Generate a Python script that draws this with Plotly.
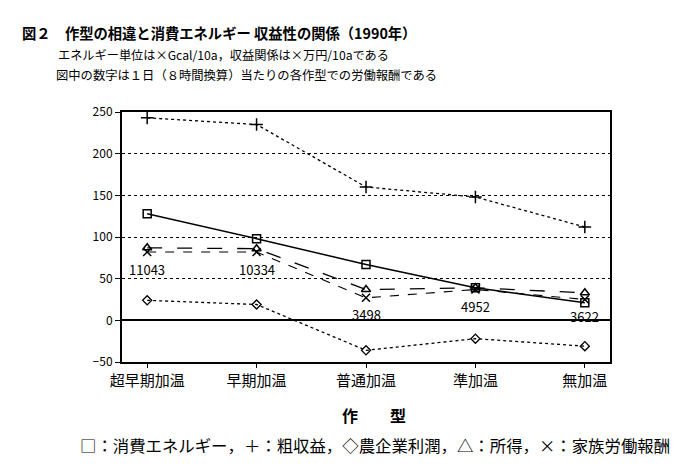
import plotly.graph_objects as go

FONT = "Noto Sans CJK JP"

# 作型
categories = ["超早期加温", "早期加温", "普通加温", "準加温", "無加温"]

# 消費エネルギー (×Gcal/10a)
energy = [128, 98, 67, 39, 21]
# 粗収益 (×万円/10a)
gross_income = [243, 235, 160, 148, 112]
# 農企業利潤
farm_profit = [24, 19, -36, -22, -31]
# 所得
income = [87, 86, 37, 39, 33]
# 家族労働報酬
family_labor = [82, 82, 27, 37, 25]
# 1日(8時間換算)当たり労働報酬
daily_labor_reward = ["11043", "10334", "3498", "4952", "3622"]

y_ticks = [250, 200, 150, 100, 50, 0, -50]

x = list(range(len(categories)))

# plot area in pixels: left 114, right 602, top 104, bottom 354
PW, PH = 488, 250


def px(xp):
    return (xp - 114) / PW


def py(yp):
    return 1 + (104 - yp) / PH


fig = go.Figure()

fig.add_trace(go.Scatter(
    x=x, y=gross_income, mode="lines+markers", name="粗収益",
    line=dict(color="black", width=1.3, dash="dot"),
    marker=dict(symbol="cross-thin-open", size=9, line=dict(width=1.5, color="black")),
))
fig.add_trace(go.Scatter(
    x=x, y=energy, mode="lines+markers", name="消費エネルギー",
    line=dict(color="black", width=1.5),
    marker=dict(symbol="square-open", size=8, color="black", line=dict(width=1.5)),
))
fig.add_trace(go.Scatter(
    x=x, y=income, mode="lines+markers", name="所得",
    line=dict(color="black", width=1.3, dash="longdash"),
    marker=dict(symbol="triangle-up-open", size=8, color="black", line=dict(width=1.5)),
))
fig.add_trace(go.Scatter(
    x=x, y=family_labor, mode="lines+markers", name="家族労働報酬",
    line=dict(color="black", width=1.1, dash="dash"),
    marker=dict(symbol="x-thin-open", size=8, line=dict(width=1.5, color="black")),
))
fig.add_trace(go.Scatter(
    x=x, y=farm_profit, mode="lines+markers", name="農企業利潤",
    line=dict(color="black", width=1.3, dash="dot"),
    marker=dict(symbol="diamond-open", size=7, color="black", line=dict(width=1.3)),
))

# 労働報酬の数字
for i, lab in enumerate(daily_labor_reward):
    fig.add_annotation(
        x=x[i], y=family_labor[i], text=lab, showarrow=False, yshift=-17,
        font=dict(family=FONT, size=13, color="black"),
    )

# タイトル・注記
fig.add_annotation(
    xref="paper", yref="paper", x=px(12), y=py(25), xanchor="left", yanchor="middle",
    text="<b>図２　作型の相違と消費エネルギー 収益性の関係（1990年）</b>",
    showarrow=False, font=dict(family=FONT, size=14.3, color="black"),
)
fig.add_annotation(
    xref="paper", yref="paper", x=px(48), y=py(47), xanchor="left", yanchor="middle",
    text="エネルギー単位は×Gcal/10a，収益関係は×万円/10aである",
    showarrow=False, font=dict(family=FONT, size=12.2, color="black"),
)
fig.add_annotation(
    xref="paper", yref="paper", x=px(46), y=py(67), xanchor="left", yanchor="middle",
    text="図中の数字は１日（８時間換算）当たりの各作型での労働報酬である",
    showarrow=False, font=dict(family=FONT, size=12.3, color="black"),
)
fig.add_annotation(
    xref="paper", yref="paper", x=px(366), y=py(407), xanchor="center", yanchor="middle",
    text="<b>作　　型</b>",
    showarrow=False, font=dict(family=FONT, size=16, color="black"),
)
fig.add_annotation(
    xref="paper", yref="paper", x=px(70), y=py(437), xanchor="left", yanchor="middle",
    text="□：消費エネルギー，＋：粗収益，◇農企業利潤，△：所得，×：家族労働報酬",
    showarrow=False, font=dict(family=FONT, size=16.4, color="black"),
)

fig.update_layout(
    width=689, height=466,
    margin=dict(l=114, r=87, t=104, b=112),
    paper_bgcolor="white", plot_bgcolor="white",
    showlegend=False,
    font=dict(family=FONT, color="black"),
    xaxis=dict(
        range=[-0.23, 4.23], tickmode="array", tickvals=x, ticktext=categories,
        showgrid=False, zeroline=False,
        showline=True, linecolor="black", linewidth=2, mirror=True,
        ticks="outside", ticklen=4, tickcolor="black",
        tickfont=dict(family=FONT, size=15, color="black"),
    ),
    yaxis=dict(
        range=[-50, 250], tickmode="array", tickvals=y_ticks,
        showgrid=True, gridcolor="black", gridwidth=1, griddash="dot",
        zeroline=True, zerolinecolor="black", zerolinewidth=1.5,
        showline=True, linecolor="black", linewidth=2, mirror=True,
        ticks="outside", ticklen=5, tickcolor="black",
        tickfont=dict(family=FONT, size=12, color="black"),
    ),
)

fig.write_html("out.html")
